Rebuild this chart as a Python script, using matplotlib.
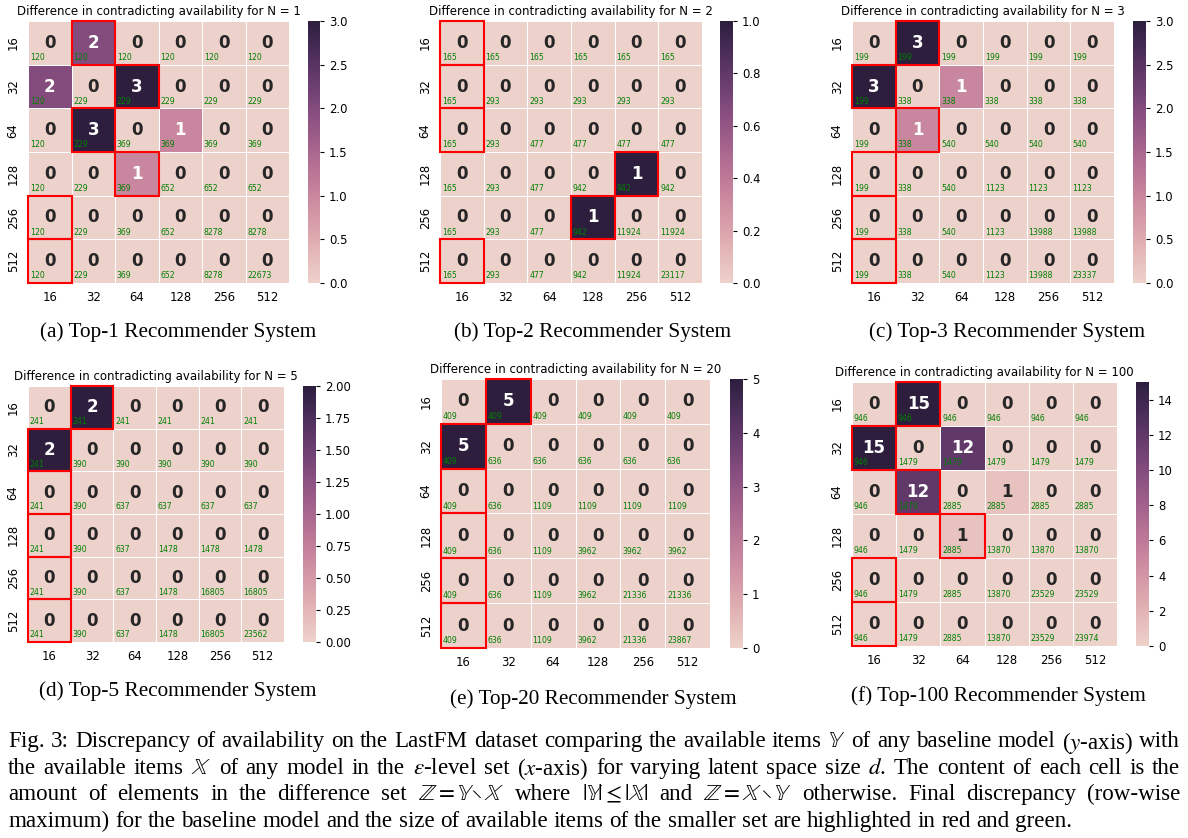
import re
import numpy as np
import matplotlib
matplotlib.use("Agg")
import matplotlib.pyplot as plt
from matplotlib.patches import Rectangle
import seaborn as sns

# ---------------- data ----------------
dims = [16, 32, 64, 128, 256, 512]
top_n = [1, 2, 3, 5, 20, 100]
letters = ["a", "b", "c", "d", "e", "f"]

diff_n1 = [[0, 2, 0, 0, 0, 0],
           [2, 0, 3, 0, 0, 0],
           [0, 3, 0, 1, 0, 0],
           [0, 0, 1, 0, 0, 0],
           [0, 0, 0, 0, 0, 0],
           [0, 0, 0, 0, 0, 0]]
diff_n2 = [[0, 0, 0, 0, 0, 0],
           [0, 0, 0, 0, 0, 0],
           [0, 0, 0, 0, 0, 0],
           [0, 0, 0, 0, 1, 0],
           [0, 0, 0, 1, 0, 0],
           [0, 0, 0, 0, 0, 0]]
diff_n3 = [[0, 3, 0, 0, 0, 0],
           [3, 0, 1, 0, 0, 0],
           [0, 1, 0, 0, 0, 0],
           [0, 0, 0, 0, 0, 0],
           [0, 0, 0, 0, 0, 0],
           [0, 0, 0, 0, 0, 0]]
diff_n5 = [[0, 2, 0, 0, 0, 0],
           [2, 0, 0, 0, 0, 0],
           [0, 0, 0, 0, 0, 0],
           [0, 0, 0, 0, 0, 0],
           [0, 0, 0, 0, 0, 0],
           [0, 0, 0, 0, 0, 0]]
diff_n20 = [[0, 5, 0, 0, 0, 0],
            [5, 0, 0, 0, 0, 0],
            [0, 0, 0, 0, 0, 0],
            [0, 0, 0, 0, 0, 0],
            [0, 0, 0, 0, 0, 0],
            [0, 0, 0, 0, 0, 0]]
diff_n100 = [[0, 15, 0, 0, 0, 0],
             [15, 0, 12, 0, 0, 0],
             [0, 12, 0, 1, 0, 0],
             [0, 0, 1, 0, 0, 0],
             [0, 0, 0, 0, 0, 0],
             [0, 0, 0, 0, 0, 0]]

# available items per latent size (smaller-set size shown in green)
sizes_n1 = [120, 229, 369, 652, 8278, 22673]
sizes_n2 = [165, 293, 477, 942, 11924, 23117]
sizes_n3 = [199, 338, 540, 1123, 13988, 23337]
sizes_n5 = [241, 390, 637, 1478, 16805, 23562]
sizes_n20 = [409, 636, 1109, 3962, 21336, 23867]
sizes_n100 = [946, 1479, 2885, 13870, 23529, 23974]

cbar_ticks_n1 = [0.0, 0.5, 1.0, 1.5, 2.0, 2.5, 3.0]
cbar_ticks_n2 = [0.0, 0.2, 0.4, 0.6, 0.8, 1.0]
cbar_ticks_n3 = [0.0, 0.5, 1.0, 1.5, 2.0, 2.5, 3.0]
cbar_ticks_n5 = [0.0, 0.25, 0.5, 0.75, 1.0, 1.25, 1.5, 1.75, 2.0]
cbar_ticks_n20 = [0, 1, 2, 3, 4, 5]
cbar_ticks_n100 = [0, 2, 4, 6, 8, 10, 12, 14]

diffs = [diff_n1, diff_n2, diff_n3, diff_n5, diff_n20, diff_n100]
sizes = [sizes_n1, sizes_n2, sizes_n3, sizes_n5, sizes_n20, sizes_n100]
cticks = [cbar_ticks_n1, cbar_ticks_n2, cbar_ticks_n3, cbar_ticks_n5,
          cbar_ticks_n20, cbar_ticks_n100]
cfmt = ["%.1f", "%.1f", "%.1f", "%.2f", "%d", "%d"]

# ---------------- layout (pixels) ----------------
W, H = 1188, 838
heat_boxes = [(28, 21, 289, 283), (440, 21, 702, 283), (852, 21, 1114, 283),
              (28, 386, 284, 642), (441, 379, 710, 648), (852, 382, 1117, 646)]
cbar_boxes = [(308, 21, 320, 283), (720, 21, 733, 283), (1133, 21, 1146, 283),
              (303, 386, 316, 642), (730, 379, 743, 648), (1136, 382, 1149, 646)]
cap_pos = [(178, 332), (593, 332), (1007, 332),
           (178, 691), (593, 699), (998, 696)]

def frac(box):
    l, t, r, b = box
    return [l / W, 1 - b / H, (r - l) / W, (b - t) / H]

plt.rcParams["font.family"] = ["DejaVu Sans"]
plt.rcParams["mathtext.fontset"] = "stix"
fig = plt.figure(figsize=(W / 100, H / 100), dpi=100)
cmap = sns.cubehelix_palette(as_cmap=True)

for k in range(6):
    data = np.array(diffs[k])
    sz = np.array(sizes[k])
    ax = fig.add_axes(frac(heat_boxes[k]))
    cax = fig.add_axes(frac(cbar_boxes[k]))
    sns.heatmap(data, ax=ax, cbar_ax=cax, cmap=cmap, vmin=0, vmax=data.max(),
                linewidths=0.7, linecolor="white", annot=True, fmt="d",
                annot_kws={"fontsize": 12, "fontweight": "bold"},
                xticklabels=dims, yticklabels=dims)
    ax.set_title(f"Difference in contradicting availability for N = {top_n[k]}",
                 fontsize=8.5, pad=4)
    ax.tick_params(length=0, labelsize=8.4, pad=6)
    ax.tick_params(axis="y", rotation=90)
    for lab in ax.get_yticklabels():
        lab.set_va("center")
    n = data.shape[0]
    for i in range(n):
        for j in range(n):
            ax.text(j + 0.04, i + 0.94, str(min(sz[i], sz[j])), fontsize=5.6,
                    color="green", ha="left", va="bottom")
        jm = int(np.argmax(data[i]))
        ax.add_patch(Rectangle((jm, i), 1, 1, fill=False, edgecolor="red",
                               linewidth=1.5, clip_on=False, zorder=5))
    cax.set_yticks(cticks[k])
    cax.yaxis.set_major_formatter(matplotlib.ticker.FormatStrFormatter(cfmt[k]))
    cax.tick_params(labelsize=8.4, length=3, width=0.8)
    cx, cy = cap_pos[k]
    fig.text(cx / W, 1 - cy / H,
             f"({letters[k]}) Top-{top_n[k]} Recommender System",
             family="Liberation Serif", fontsize=15.3, ha="center", va="center")

# ---------------- figure caption (justified) ----------------
cap_lines = [
    r"Fig. 3: Discrepancy of availability on the LastFM dataset comparing the available items $\mathbb{Y}$ of any baseline model ($y$-axis) with",
    r"the available items $\mathbb{X}$ of any model in the $\epsilon$-level set ($x$-axis) for varying latent space size $d$. The content of each cell is the",
    r"amount of elements in the difference set $\mathbb{Z} = \mathbb{Y} \setminus \mathbb{X}$ where $|\mathbb{Y}| \leq |\mathbb{X}|$ and $\mathbb{Z} = \mathbb{X} \setminus \mathbb{Y}$ otherwise. Final discrepancy (row-wise",
    r"maximum) for the baseline model and the size of available items of the smaller set are highlighted in red and green.",
]
cap_fs = 16.6
cap_y = [739, 765.5, 792, 818.5]
x_left, x_right = 8, 1180
renderer = fig.canvas.get_renderer()
probe1 = fig.text(0, 0, "a b", family="Liberation Serif", fontsize=cap_fs)
probe2 = fig.text(0, 0, "ab", family="Liberation Serif", fontsize=cap_fs)
sp = probe1.get_window_extent(renderer).width - probe2.get_window_extent(renderer).width
probe1.remove()
probe2.remove()
for li, line in enumerate(cap_lines):
    tokens = re.findall(r"(?:\$[^$]*\$|\S)+", line)
    texts = []
    widths = []
    for tok in tokens:
        t = fig.text(0, 1 - cap_y[li] / H, tok, family="Liberation Serif",
                     fontsize=cap_fs, ha="left", va="center_baseline")
        texts.append(t)
        widths.append(t.get_window_extent(renderer).width)
    if li < len(cap_lines) - 1:
        gap = (x_right - x_left - sum(widths)) / (len(tokens) - 1)
    else:
        gap = sp
    x = x_left
    for t, w in zip(texts, widths):
        t.set_x(x / W)
        x += w + gap

fig.savefig("out.png", dpi=100)
